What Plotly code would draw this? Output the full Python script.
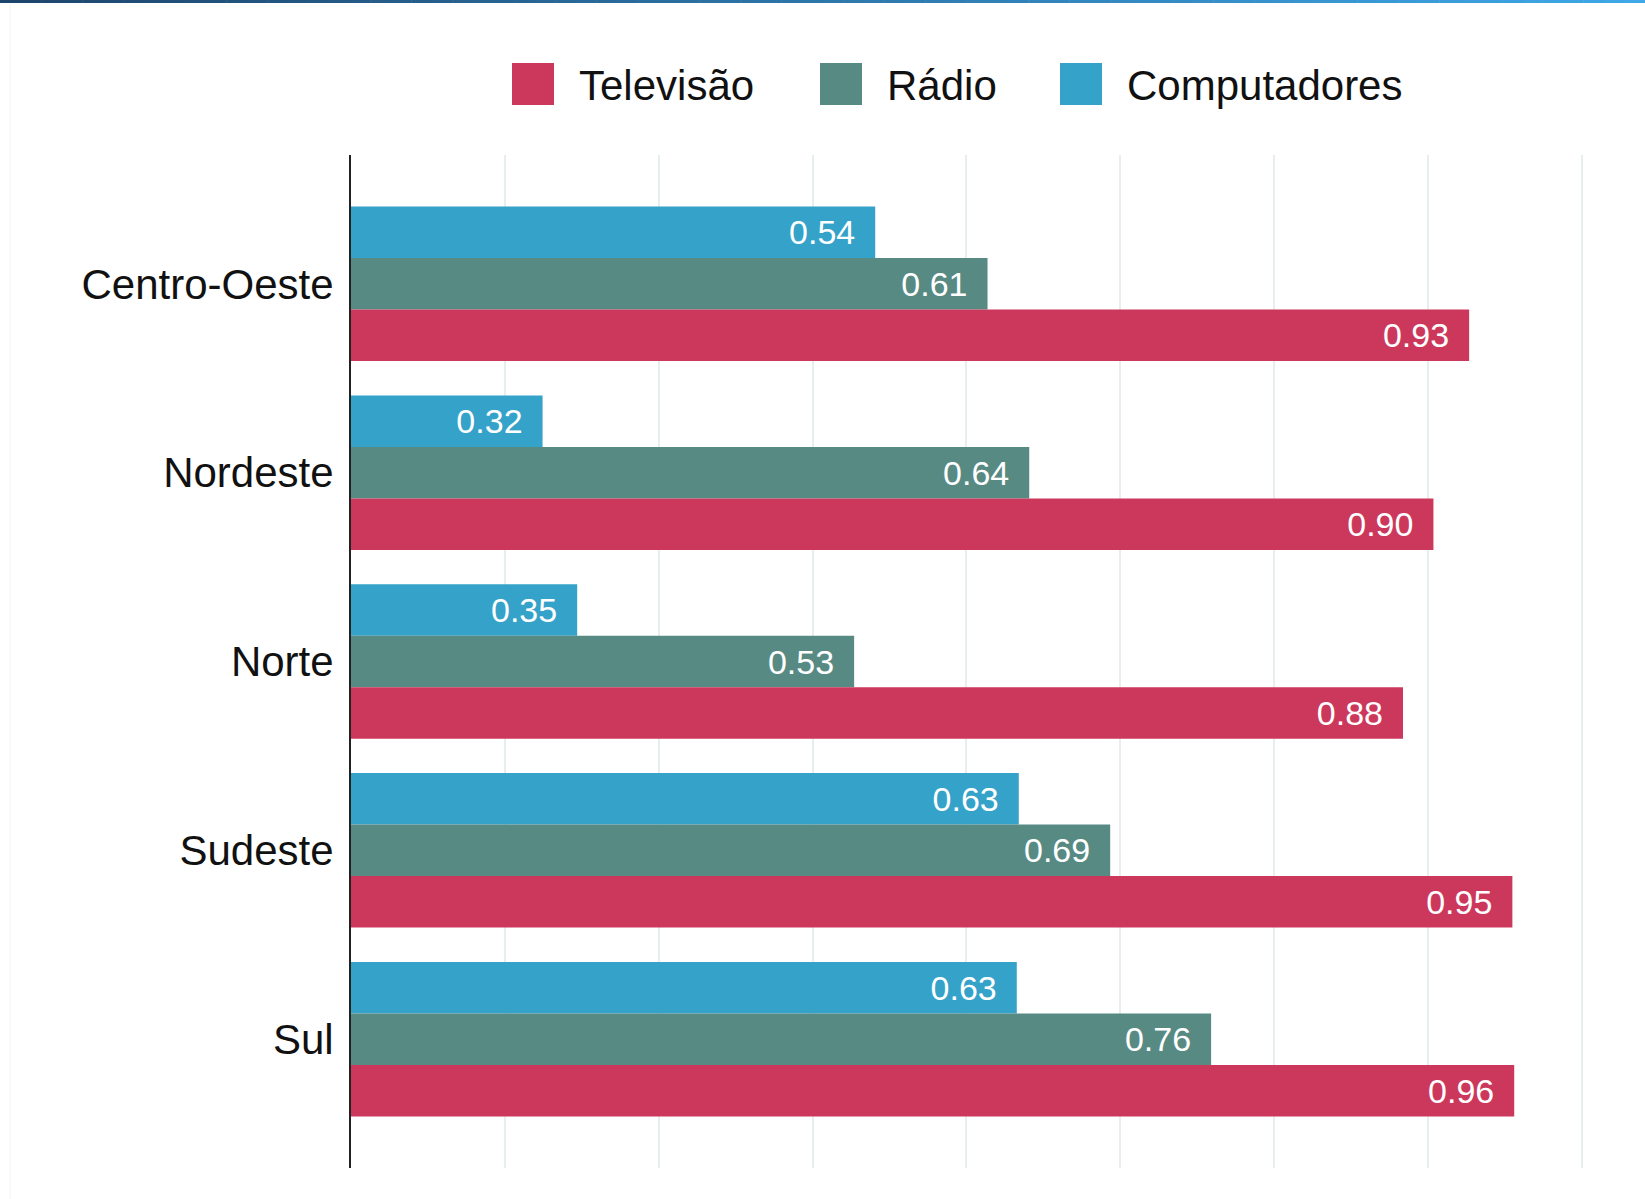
import plotly.graph_objects as go

# ---- data ----
regions = ["Centro-Oeste", "Nordeste", "Norte", "Sudeste", "Sul"]
series_names = ["Computadores", "Rádio", "Televisão"]
computadores = [0.5407, 0.3245, 0.3470, 0.6340, 0.6327]
radio = [0.6137, 0.6408, 0.5270, 0.6934, 0.7590]
televisao = [0.9267, 0.9035, 0.8837, 0.9548, 0.9560]
colors = ["#35a2c9", "#588a84", "#cc385c"]
legend_order = ["Televisão", "Rádio", "Computadores"]

W, H = 1645, 1199
L, R, T, B = 351, 60, 155, 31
PW, PH = W - L - R, H - T - B


def px2x(px):
    return (px - L) / PW


def py2y(py):
    return 1 - (py - T) / PH


FONT = "Liberation Sans, Arial, sans-serif"

fig = go.Figure()
for name, vals, col in zip(series_names, [computadores, radio, televisao], colors):
    fig.add_trace(go.Bar(
        name=name,
        y=regions,
        x=vals,
        orientation="h",
        marker=dict(color=col, line=dict(width=0)),
        text=[f"{v:.2f}\u2002" for v in vals],
        textposition="inside",
        insidetextanchor="end",
        textangle=0,
        constraintext="none",
        textfont=dict(family=FONT, size=34, color="white"),
        showlegend=False,
        hoverinfo="x+y+name",
    ))

shapes = []
# top gradient strip
c0 = (0x1d, 0x45, 0x6c)
c1 = (0x3e, 0xa8, 0xe8)
N = 80
for i in range(N):
    t = i / (N - 1)
    c = tuple(int(round(a + (b - a) * t)) for a, b in zip(c0, c1))
    shapes.append(dict(
        type="rect", xref="paper", yref="paper",
        x0=px2x(W * i / N), x1=px2x(W * (i + 1) / N + 0.5),
        y0=py2y(3), y1=py2y(0),
        fillcolor=f"rgb{c}", line=dict(width=0), layer="above",
    ))
# faint card border on left
shapes.append(dict(type="line", xref="paper", yref="paper",
                   x0=px2x(10), x1=px2x(10), y0=py2y(H), y1=py2y(4),
                   line=dict(color="#f3f3f3", width=1)))

# custom legend
legend_colors = {n: c for n, c in zip(series_names, colors)}
legend_swatch_x = [512, 820, 1060]
annotations = []
for name, sx in zip(legend_order, legend_swatch_x):
    shapes.append(dict(
        type="rect", xref="paper", yref="paper",
        x0=px2x(sx), x1=px2x(sx + 42), y0=py2y(105), y1=py2y(63),
        fillcolor=legend_colors[name], line=dict(width=0),
    ))
    annotations.append(dict(
        xref="paper", yref="paper", x=px2x(sx + 65), y=py2y(86),
        xanchor="left", yanchor="middle", text=name, showarrow=False,
        font=dict(family=FONT, size=42, color="#111111"),
    ))

fig.update_layout(
    width=W, height=H,
    margin=dict(l=L, r=R, t=T, b=B, autoexpand=False),
    paper_bgcolor="white",
    plot_bgcolor="white",
    barmode="group",
    bargap=0.182,
    bargroupgap=0,
    shapes=shapes,
    annotations=annotations,
    showlegend=False,
    xaxis=dict(
        range=[0.2, 1.002],
        dtick=0.1,
        tick0=0.2,
        showgrid=True,
        gridcolor="#e6eef0",
        gridwidth=2,
        zeroline=False,
        showticklabels=False,
        showline=False,
        fixedrange=True,
    ),
    yaxis=dict(
        categoryorder="array",
        categoryarray=regions,
        range=[4.682, -0.682],
        showline=True,
        linecolor="#222222",
        linewidth=2,
        showgrid=False,
        zeroline=False,
        ticks="",
        ticklabelstandoff=7,
        tickfont=dict(family=FONT, size=42, color="#111111"),
        fixedrange=True,
    ),
)

fig.write_html("out.html", config={"displayModeBar": False},
               post_script="document.body.style.margin='0px';")
